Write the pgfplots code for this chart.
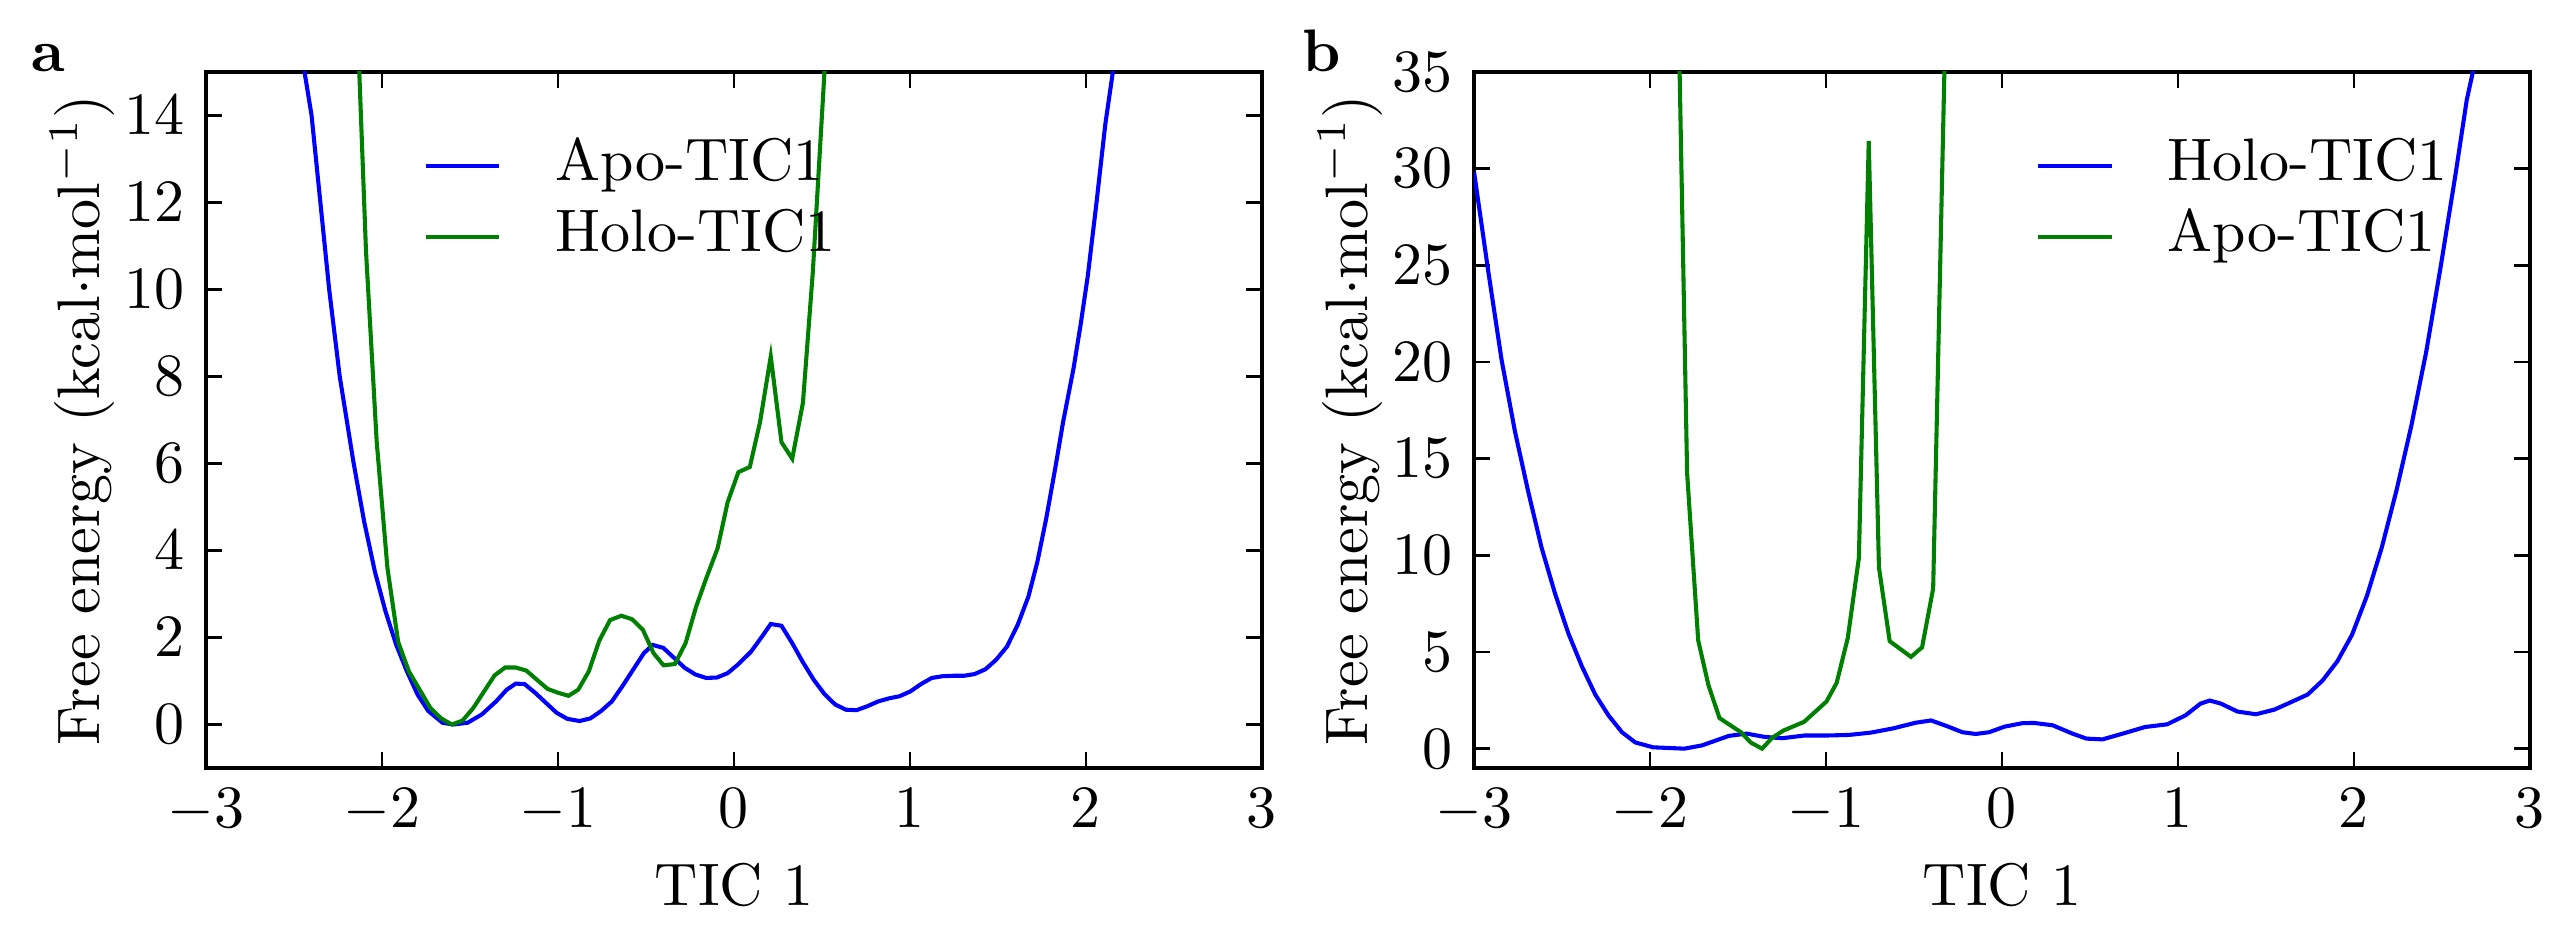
\documentclass[border=0pt]{standalone}
\usepackage{pgfplots}
\pgfplotsset{compat=1.18}
\definecolor{mblue}{RGB}{0,0,255}
\definecolor{mgreen}{RGB}{0,128,0}
\pgfplotsset{
  fe/.style={
    width=176pt, height=116pt, scale only axis,
    xmin=-3, xmax=3, xtick={-3,-2,-1,0,1,2,3},
    tick align=inside, major tick length=2.7pt,
    every tick/.style={black, line width=0.4pt},
    axis line style={line width=0.8pt},
    xlabel={TIC 1},
    ylabel={Free energy (kcal$\cdot$mol$^{-1}$)},
    xlabel style={at={(axis description cs:0.5,-0.198)}, anchor=base},
    ylabel style={at={(axis description cs:-0.1006,0.5)}, anchor=base},
    legend image code/.code={\draw[##1] (0pt,0pt) -- (12.3pt,0pt);},
    legend style={draw=none, fill=none, inner sep=0pt, outer sep=0pt,
      row sep=2.8pt, column sep=9pt,
      nodes={inner sep=0pt, text height=7pt, text depth=2pt}},
    legend cell align=left,
    every axis plot/.append style={line width=0.68pt, no markers},
  }
}
\begin{document}
\begin{tikzpicture}
\path[use as bounding box] (-34.33pt,-29.67pt) rectangle (394.83pt,128pt);
\begin{axis}[fe, name=A, at={(0pt,0pt)}, anchor=south west,
  ymin=-1, ymax=15, ytick={0,2,4,6,8,10,12,14},
  legend style={at={(axis description cs:0.206,0.904)}, anchor=north west}]
\addplot[mblue] coordinates {
(-2.48,16.3) (-2.44,15.0) (-2.40,14.0) (-2.35,12.0) (-2.30,10.0) (-2.24,8.0)
(-2.162,6.03) (-2.101,4.66) (-2.04,3.51) (-1.98,2.60) (-1.919,1.83) (-1.858,1.22)
(-1.798,0.69) (-1.737,0.31) (-1.656,0.04) (-1.595,0) (-1.514,0.04) (-1.433,0.23)
(-1.352,0.53) (-1.291,0.80) (-1.24,0.94) (-1.19,0.93) (-1.13,0.73) (-1.069,0.50)
(-1.008,0.27) (-0.947,0.13) (-0.877,0.08) (-0.816,0.14) (-0.755,0.31) (-0.694,0.53)
(-0.634,0.88) (-0.573,1.26) (-0.512,1.64) (-0.462,1.83) (-0.401,1.76) (-0.34,1.53)
(-0.279,1.30) (-0.219,1.15) (-0.158,1.07) (-0.097,1.08) (-0.036,1.18) (0.026,1.39)
(0.098,1.68) (0.159,2.02) (0.209,2.31) (0.270,2.27) (0.331,1.87) (0.392,1.43)
(0.453,1.03) (0.514,0.70) (0.575,0.46) (0.636,0.34) (0.697,0.33) (0.758,0.42)
(0.819,0.53) (0.880,0.60) (0.941,0.65) (1.002,0.76) (1.063,0.93) (1.124,1.07)
(1.185,1.11) (1.246,1.12) (1.307,1.12) (1.368,1.16) (1.429,1.27) (1.490,1.49)
(1.551,1.79) (1.612,2.29) (1.673,2.94) (1.724,3.74) (1.774,4.73) (1.825,5.88)
(1.87,6.95) (1.93,8.2) (1.97,9.2) (2.01,10.3) (2.06,12.0) (2.11,13.8) (2.16,15.2) (2.21,17.0)
};
\addlegendentry{Apo-TIC1}
\addplot[mgreen] coordinates {
(-2.152,17.5) (-2.091,10.9) (-2.030,6.5) (-1.969,3.6) (-1.908,1.9) (-1.847,1.22)
(-1.786,0.80) (-1.725,0.38) (-1.664,0.14) (-1.603,0.0) (-1.542,0.09) (-1.481,0.38)
(-1.42,0.76) (-1.36,1.13) (-1.30,1.31) (-1.24,1.31) (-1.18,1.24) (-1.12,1.03)
(-1.06,0.82) (-1.00,0.73) (-0.94,0.66) (-0.885,0.80) (-0.825,1.22) (-0.765,1.93)
(-0.704,2.40) (-0.64,2.50) (-0.579,2.42) (-0.518,2.18) (-0.457,1.64) (-0.40,1.36)
(-0.336,1.39) (-0.275,1.87) (-0.215,2.71) (-0.154,3.40) (-0.093,4.05) (-0.036,5.11)
(0.025,5.80) (0.09,5.92) (0.148,6.95) (0.209,8.46) (0.270,6.49) (0.331,6.11)
(0.392,7.40) (0.448,10.4) (0.52,15.4)
};
\addlegendentry{Holo-TIC1}
\end{axis}
\begin{axis}[fe, name=B, at={(211.33pt,0pt)}, anchor=south west,
  ymin=-1, ymax=35, ytick={0,5,10,15,20,25,30,35},
  legend style={at={(axis description cs:0.532,0.904)}, anchor=north west}]
\addplot[mblue] coordinates {
(-3.0,29.85) (-2.919,24.7) (-2.843,20.1) (-2.767,16.4) (-2.692,13.3) (-2.616,10.4)
(-2.540,8.04) (-2.464,5.97) (-2.387,4.26) (-2.311,2.80) (-2.235,1.71) (-2.159,0.85)
(-2.083,0.32) (-1.982,0.07) (-1.805,0.0) (-1.704,0.17) (-1.552,0.66) (-1.451,0.78)
(-1.35,0.61) (-1.249,0.54) (-1.123,0.68) (-0.997,0.68) (-0.870,0.71) (-0.745,0.83)
(-0.618,1.05) (-0.491,1.34) (-0.403,1.46) (-0.314,1.17) (-0.225,0.85) (-0.149,0.76)
(-0.073,0.85) (0.015,1.14) (0.117,1.32) (0.183,1.33) (0.288,1.21) (0.40,0.78)
(0.48,0.52) (0.571,0.48) (0.687,0.78) (0.813,1.12) (0.939,1.26) (1.044,1.73)
(1.128,2.33) (1.181,2.49) (1.244,2.33) (1.338,1.92) (1.443,1.78) (1.548,2.02)
(1.653,2.45) (1.737,2.80) (1.821,3.52) (1.905,4.51) (1.989,5.89) (2.074,7.91)
(2.158,10.40) (2.242,13.37) (2.326,16.70) (2.410,20.50) (2.494,25.0) (2.578,29.76)
(2.641,33.56) (2.70,36.0)
};
\addlegendentry{Holo-TIC1}
\addplot[mgreen] coordinates {
(-1.85,44) (-1.789,14.25) (-1.726,5.6) (-1.668,3.29) (-1.605,1.58) (-1.483,0.85)
(-1.428,0.32) (-1.363,0.0) (-1.306,0.56) (-1.243,0.93) (-1.124,1.39) (-0.997,2.44)
(-0.939,3.41) (-0.876,5.73) (-0.813,9.87) (-0.757,31.43) (-0.699,9.38) (-0.638,5.56)
(-0.517,4.75) (-0.454,5.24) (-0.391,8.28) (-0.32,38)
};
\addlegendentry{Apo-TIC1}
\end{axis}
\node[anchor=base west, inner sep=0pt] at ([xshift=-29.3pt]A.north west) {\textbf{a}};
\node[anchor=base west, inner sep=0pt] at ([xshift=-28.7pt]B.north west) {\textbf{b}};
\end{tikzpicture}
\end{document}
